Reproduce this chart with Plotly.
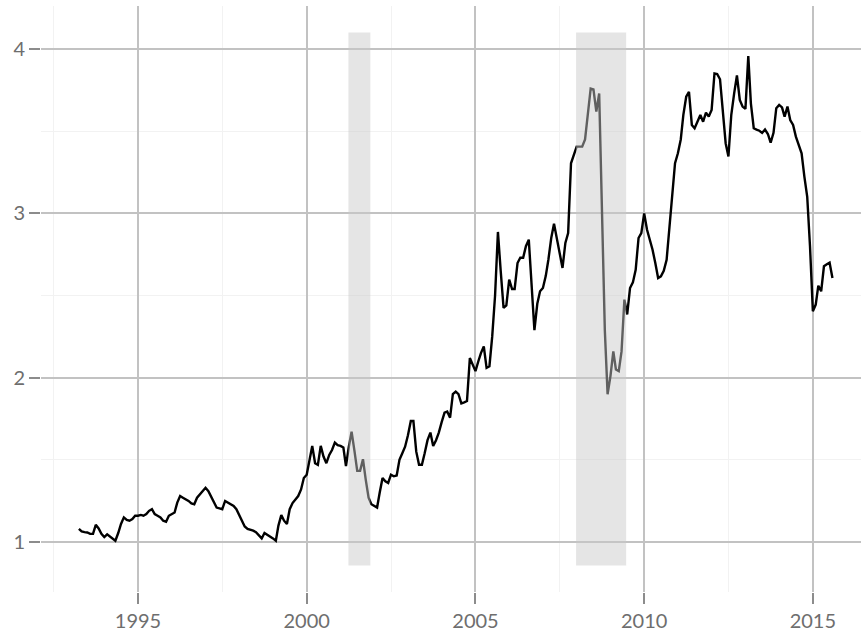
import pandas as pd
import plotly.graph_objects as go

# Monthly series, April 1993 .. August 2015
start_month = "1993-04-01"
values = [
    1.08, 1.065, 1.06, 1.058, 1.05, 1.05, 1.105, 1.083, 1.05, 1.03,
    1.047, 1.035, 1.02, 1.008, 1.055, 1.11, 1.15, 1.135, 1.13, 1.14,
    1.16, 1.16, 1.165, 1.16, 1.17, 1.19, 1.2, 1.17, 1.16, 1.15,
    1.13, 1.123, 1.16, 1.17, 1.18, 1.24, 1.28, 1.27, 1.26, 1.25,
    1.235, 1.23, 1.27, 1.29, 1.315, 1.33, 1.31, 1.28, 1.24, 1.21,
    1.205, 1.2, 1.25, 1.24, 1.235, 1.22, 1.2, 1.165, 1.12, 1.095,
    1.08, 1.075, 1.069, 1.06, 1.04, 1.022, 1.055, 1.045, 1.035, 1.022,
    1.008, 1.10, 1.164, 1.13, 1.11, 1.2, 1.237, 1.26, 1.28, 1.32,
    1.39, 1.41, 1.5, 1.585, 1.48, 1.47, 1.585, 1.52, 1.48, 1.53,
    1.56, 1.605, 1.59, 1.585, 1.575, 1.463, 1.58, 1.672, 1.555, 1.433,
    1.433, 1.504, 1.38, 1.27, 1.23, 1.22, 1.21, 1.30, 1.39, 1.37,
    1.36, 1.41, 1.40, 1.405, 1.50, 1.54, 1.58, 1.65, 1.737, 1.737,
    1.55, 1.47, 1.47, 1.54, 1.62, 1.666, 1.585, 1.62, 1.666, 1.73,
    1.788, 1.794, 1.757, 1.90, 1.915, 1.90, 1.844, 1.85, 1.858, 2.12,
    2.08, 2.04, 2.10, 2.15, 2.19, 2.06, 2.07, 2.25, 2.5, 2.887,
    2.65, 2.425, 2.44, 2.597, 2.54, 2.54, 2.698, 2.73, 2.73, 2.8,
    2.84, 2.577, 2.289, 2.45, 2.526, 2.546, 2.62, 2.718, 2.85, 2.937,
    2.85, 2.75, 2.668, 2.82, 2.88, 3.305, 3.36, 3.406, 3.406, 3.406,
    3.45, 3.6, 3.76, 3.755, 3.619, 3.73, 3.10, 2.29, 1.899, 2.01,
    2.16, 2.05, 2.04, 2.16, 2.475, 2.385, 2.546, 2.58, 2.657, 2.85,
    2.88, 3.0, 2.90, 2.85, 2.78, 2.70, 2.607, 2.617, 2.65, 2.718,
    2.9, 3.12, 3.305, 3.366, 3.45, 3.6, 3.71, 3.74, 3.538, 3.518,
    3.56, 3.599, 3.558, 3.613, 3.589, 3.63, 3.852, 3.848, 3.816, 3.61,
    3.427, 3.346, 3.6, 3.73, 3.84, 3.69, 3.65, 3.636, 3.957, 3.67,
    3.518, 3.51, 3.503, 3.49, 3.51, 3.483, 3.43, 3.49, 3.64, 3.66,
    3.645, 3.589, 3.65, 3.568, 3.538, 3.467, 3.42, 3.366, 3.224, 3.10,
    2.80, 2.405, 2.445, 2.56, 2.526, 2.678, 2.69, 2.70, 2.607,
]
dates = pd.date_range(start_month, periods=len(values), freq="MS")

# Recession periods (shaded)
recession_starts = ["2001-03-28", "2007-12-26"]
recession_ends = ["2001-11-20", "2009-06-20"]
shade_bottom = 0.858
shade_top = 4.10

# Axis ticks
x_tick_labels = ["1995", "2000", "2005", "2010", "2015"]
x_tick_vals = [f"{y}-01-01" for y in x_tick_labels]
x_minor_vals = ["1992-07-02", "1997-07-02", "2002-07-02", "2007-07-02", "2012-07-02"]
y_tick_vals = [1, 2, 3, 4]
y_tick_labels = ["1", "2", "3", "4"]
y_minor_vals = [1.5, 2.5, 3.5]

fig = go.Figure()
fig.add_trace(go.Scatter(
    x=dates, y=values, mode="lines",
    line=dict(color="black", width=2.4),
    showlegend=False, hoverinfo="skip",
))

for s, e in zip(recession_starts, recession_ends):
    fig.add_shape(type="rect", xref="x", yref="y", x0=s, x1=e,
                  y0=shade_bottom, y1=shade_top,
                  fillcolor="rgba(200,200,200,0.48)", line=dict(width=0),
                  layer="above")

tick_font = dict(family="Lato, 'Open Sans', sans-serif", size=20, color="#6e6e6e")

fig.update_layout(
    width=861, height=637,
    margin=dict(l=41, r=0, t=6, b=45, pad=0),
    paper_bgcolor="white", plot_bgcolor="white",
    showlegend=False,
)
fig.update_xaxes(
    type="date",
    range=["1992-02-16", "2016-06-05"],
    tickmode="array", tickvals=x_tick_vals, ticktext=x_tick_labels,
    ticks="outside", ticklen=11, tickwidth=2, tickcolor="#8c8c8c",
    showgrid=True, gridcolor="#c2c2c2", gridwidth=2,
    minor=dict(tickmode="array", tickvals=x_minor_vals, showgrid=True,
               gridcolor="#f2f2f2", gridwidth=1, ticks=""),
    zeroline=False, showline=False,
    tickfont=tick_font,
)
fig.update_yaxes(
    range=[0.696, 4.262],
    tickmode="array", tickvals=y_tick_vals, ticktext=y_tick_labels,
    ticks="outside", ticklen=11, tickwidth=2, tickcolor="#8c8c8c",
    showgrid=True, gridcolor="#c2c2c2", gridwidth=2,
    minor=dict(tickmode="array", tickvals=y_minor_vals, showgrid=True,
               gridcolor="#f2f2f2", gridwidth=1, ticks=""),
    zeroline=False, showline=False,
    tickfont=tick_font,
)

fig.write_html("out.html", config={"displayModeBar": False},
               post_script="document.body.style.margin='0px';")
